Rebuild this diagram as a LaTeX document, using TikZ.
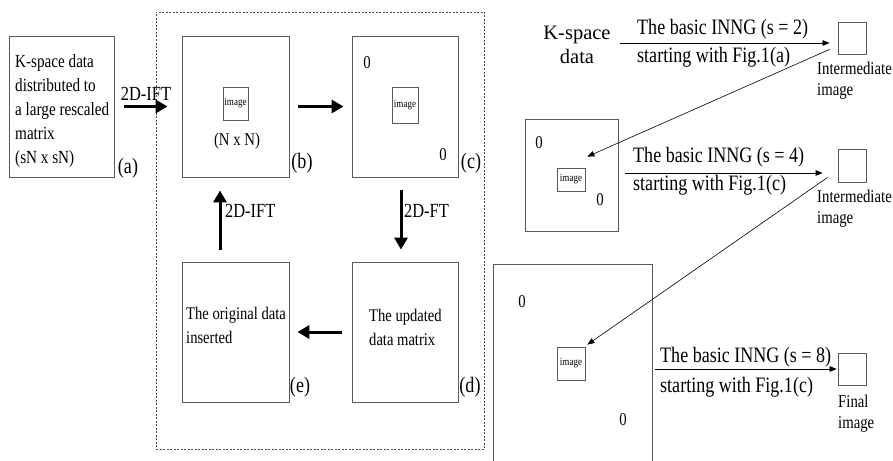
\documentclass[tikz,border=0pt]{standalone}
\usepackage{fontspec}
\setmainfont{Liberation Serif}[FakeStretch=0.82]
\newfontfamily\widefont{Liberation Serif}
\usetikzlibrary{arrows.meta}
\begin{document}
\begin{tikzpicture}[x=1pt,y=-1pt,
  box/.style={draw=black!65, line width=0.8pt, inner sep=0pt},
  imgbox/.style={draw=black!65, line width=0.8pt, inner sep=0pt, font=\fontsize{11}{12}\selectfont},
  bigarrow/.style={line width=3pt, -{Triangle[length=12pt,width=13pt]}},
  thinarrow/.style={line width=0.6pt, -{Triangle[length=7pt,width=5.5pt]}},
  txt/.style={inner sep=0pt, align=left, font=\fontsize{18.5}{24}\selectfont},
  boxtxt/.style={inner sep=0pt, align=left, font=\fontsize{17.8}{24}\selectfont},
  tag/.style={inner sep=0pt, font=\fontsize{22}{24}\selectfont},
  zero/.style={inner sep=0pt, font=\fontsize{18}{20}\selectfont},
  lbl/.style={inner sep=0pt, font=\fontsize{20}{24}\selectfont},
  inng/.style={inner sep=0pt, anchor=base west, font=\fontsize{22}{26}\selectfont},
  captxt/.style={inner sep=0pt, align=left, anchor=north west, font=\fontsize{18}{21}\selectfont}]
\useasboundingbox (0,0) rectangle (893,460);
\begin{scope}
\clip (0,0) rectangle (893,460);
% dashed frame
\node[draw=black!70, line width=0.7pt, dash pattern=on 2pt off 1.5pt, minimum width=328, minimum height=437, inner sep=0pt] (frame) at (320,230.5) {};
% left loop
\node[box, minimum width=105, minimum height=141] (a) at (61.5,106.5) {};
\node[txt, anchor=north west] (atext) at (15,54) {K-space data\\distributed to\\a large rescaled\\matrix\\(sN x sN)};
\node[tag] (la) at (128,168) {(a)};

\node[box, minimum width=107, minimum height=141] (b) at (235.5,106.5) {};
\node[imgbox, minimum width=25, minimum height=33] (bimg) at (235.5,103.5) {image};
\node[zero] (bnn) at (237,141) {(N x N)};
\node[tag] (lb) at (302,163) {(b)};

\node[box, minimum width=106, minimum height=141] (c) at (405,106.5) {};
\node[imgbox, minimum width=26, minimum height=36] (cimg) at (405,105) {image};
\node[zero] (c0a) at (367,63) {0};
\node[zero] (c0b) at (443,155) {0};
\node[tag] (lc) at (471,163) {(c)};

\node[box, minimum width=106, minimum height=140] (d) at (405,332) {};
\node[boxtxt, anchor=north west] (dtext) at (369,309) {The updated\\data matrix};
\node[tag] (ld) at (470,387) {(d)};

\node[box, minimum width=107, minimum height=140] (e) at (235.5,332) {};
\node[boxtxt, anchor=north west] (etext) at (186,307) {The original data\\inserted};
\node[tag] (le) at (300,387) {(e)};

\draw[bigarrow, shorten <=10pt, shorten >=14pt] (a) -- (b);
\node[lbl, anchor=base] (l1) at (146,100) {2D-IFT};
\draw[bigarrow, shorten <=9pt, shorten >=8pt] (b) -- (c);
\draw[bigarrow, shorten <=13pt, shorten >=12pt] ([xshift=-4pt]c.south) -- ([xshift=-4pt]d.north);
\node[lbl, anchor=base west] (l2) at (404,217) {2D-FT};
\draw[bigarrow, shorten <=10pt, shorten >=8pt] (d) -- (e);
\draw[bigarrow, shorten <=12pt, shorten >=13pt] ([xshift=-15.5pt]e.north) -- ([xshift=-15.5pt]b.south);
\node[lbl, anchor=base west] (l3) at (225,217) {2D-IFT};

% right part
\node[inner sep=0pt, align=center, anchor=north, font=\widefont\fontsize{20.5}{24}\selectfont] (ks) at (577,26) {K-space\\data};
\node[box, minimum width=28, minimum height=32] (s1) at (852,38) {};
\node[captxt] (s1t) at (817,62) {Intermediate\\image};
\coordinate (a1s) at (620,43);
\draw[thinarrow, shorten >=8pt] (a1s) -- (a1s -| s1.west);
\node[inng] (t1) at (637,35) {The basic INNG (s = 2)};
\node[inng] (t1b) at (637,63) {starting with Fig.1(a)};

\node[box, minimum width=93, minimum height=112] (m2) at (571.5,175) {};
\node[imgbox, minimum width=28, minimum height=23] (m2img) at (571,179.5) {image};
\node[zero] (m20a) at (539,143) {0};
\node[zero] (m20b) at (600,200) {0};
\node[box, minimum width=28, minimum height=33] (s2) at (852,165.5) {};
\node[captxt] (s2t) at (817,190) {Intermediate\\image};
\coordinate (a2s) at (625,173);
\draw[thinarrow, shorten >=15pt] (a2s) -- (a2s -| s2.west);
\node[inng] (t2) at (633,162) {The basic INNG (s = 4)};
\node[inng] (t2b) at (633,190) {starting with Fig.1(c)};
\draw[thinarrow] ([shift={(-8,-5)}]s1.south west) -- ([shift={(2,-11)}]m2img.north east);

\node[box, minimum width=159, minimum height=210] (m3) at (572.5,369) {};
\node[imgbox, minimum width=28, minimum height=33] (m3img) at (571,363.5) {image};
\node[zero] (m30a) at (522,302) {0};
\node[zero] (m30b) at (623,420) {0};
\node[box, minimum width=28, minimum height=32] (fb) at (852,369) {};
\node[captxt] (fbt) at (838,395) {Final\\image};
\draw[thinarrow, shorten <=3pt, shorten >=1pt] (fb.west -| m3.east) -- (fb.west);
\node[inng] (t3) at (660,362) {The basic INNG (s = 8)};
\node[inng] (t3b) at (660,392) {starting with Fig.1(c)};
\draw[thinarrow] ([shift={(-10,-5)}]s2.south west) -- ([shift={(2,-2)}]m3img.north east);
\end{scope}
\end{tikzpicture}
\end{document}
